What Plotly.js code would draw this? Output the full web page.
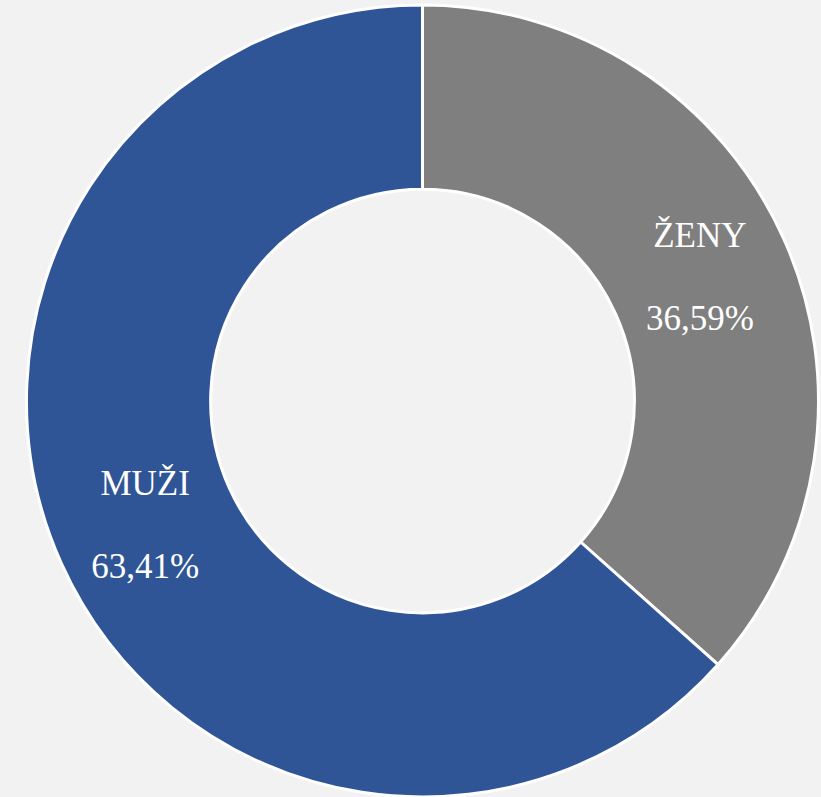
<!DOCTYPE html>
<html>
<head>
<meta charset="utf-8">
<script src="https://cdn.plot.ly/plotly-3.0.1.min.js"></script>
<style>html,body{margin:0;padding:0;background:#f2f2f2;}#chart{width:821px;height:797px;}</style>
</head>
<body>
<div id="chart"></div>
<script>
const categories = ["ŽENY", "MUŽI"];
const shares = [36.59, 63.41];
const sliceColors = ["#7f7f7f", "#2f5597"];

const labelFont = { family: "Liberation Serif", size: 32, color: "#ffffff" };

const trace = {
  type: "pie",
  labels: categories,
  values: shares,
  sort: false,
  direction: "clockwise",
  rotation: 0,
  hole: 0.535,
  marker: { colors: sliceColors, line: { color: "#ffffff", width: 3 } },
  textinfo: "text",
  texttemplate: "<span style='font-size:35px'>%{label}</span><br><br><span style='font-size:35px'>%{value:.2f}%</span>",
  textposition: "inside",
  insidetextorientation: "horizontal",
  textfont: labelFont,
  insidetextfont: labelFont,
  hoverinfo: "none",
  showlegend: false,
  domain: { x: [25/821, 820/821], y: [0, 1 - 5/797] }
};

const layout = {
  width: 821,
  height: 797,
  margin: { l: 0, r: 0, t: 0, b: 0 },
  paper_bgcolor: "#f2f2f2",
  plot_bgcolor: "#f2f2f2",
  separators: ", ",
  font: { family: "Liberation Serif", color: "#ffffff" },
  showlegend: false
};

Plotly.newPlot("chart", [trace], layout, { displayModeBar: false, staticPlot: true });
</script>
</body>
</html>
